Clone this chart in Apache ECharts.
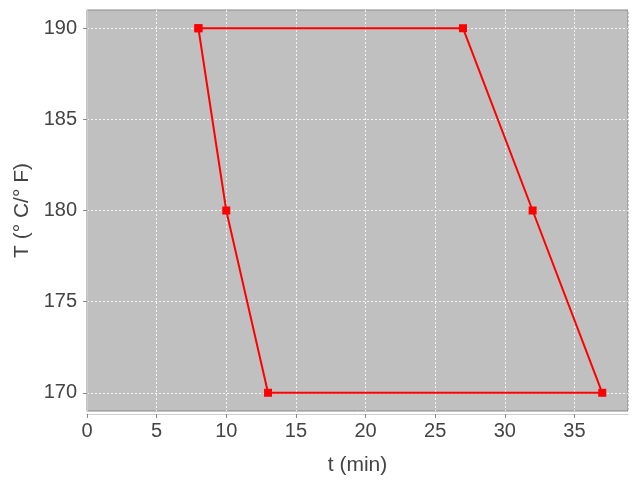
<!DOCTYPE html>
<html><head><meta charset="utf-8">
<script src="https://cdn.jsdelivr.net/npm/echarts@6/dist/echarts.min.js"></script>
<style>html,body{margin:0;padding:0;background:#fff}#c{width:640px;height:480px}</style>
</head><body><div id="c"></div>
<script>
var tValues = [8, 27, 32, 37, 13, 10, 8];
var TValues = [190, 190, 180, 170, 170, 180, 190];
var xTicks = [0, 5, 10, 15, 20, 25, 30, 35];
var yTicks = [170, 175, 180, 185, 190];

var pts = tValues.map(function (t, i) { return [t, TValues[i]]; });
var font = 'Liberation Sans, Arial, sans-serif';
var chart = echarts.init(document.getElementById('c'), null, {renderer: 'canvas'});
chart.setOption({
  animation: false,
  backgroundColor: '#fff',
  grid: {left: 87, right: 12, top: 10, bottom: 69, outerBoundsMode: 'none', containLabel: false,
    show: true, backgroundColor: '#c0c0c0', borderColor: '#888', borderWidth: 1},
  xAxis: {
    type: 'value', min: 0, max: 38.85, interval: 5, offset: 3,
    name: 't (min)', nameLocation: 'middle', nameGap: 41,
    nameTextStyle: {fontSize: 21, color: '#444', fontFamily: font},
    axisLine: {show: true, lineStyle: {color: '#ccc', width: 1}},
    axisTick: {show: true, length: 4, lineStyle: {color: '#888'}},
    axisLabel: {fontSize: 20, color: '#444', fontFamily: font, margin: 7, showMaxLabel: false,
      formatter: function (v) { return xTicks.indexOf(v) >= 0 ? String(v) : ''; }},
    splitLine: {show: true, lineStyle: {color: '#f4f4f4', type: [2, 2], width: 1}}
  },
  yAxis: {
    type: 'value', min: 169, max: 191, interval: 5, offset: 3,
    name: 'T (° C/° F)', nameLocation: 'middle', nameGap: 46,
    nameTextStyle: {fontSize: 21, color: '#444', fontFamily: font},
    axisLine: {show: true, lineStyle: {color: '#ccc', width: 1}},
    axisTick: {show: true, length: 4, lineStyle: {color: '#888'}, customValues: yTicks},
    axisLabel: {fontSize: 20, color: '#444', fontFamily: font, margin: 7, customValues: yTicks},
    splitLine: {show: true, lineStyle: {color: '#f4f4f4', type: [2, 2], width: 1}}
  },
  series: [{
    type: 'line', data: pts, symbol: 'rect', symbolSize: 8,
    lineStyle: {color: '#ff0000', width: 2}, itemStyle: {color: '#ff0000'}
  }]
});
</script></body></html>
